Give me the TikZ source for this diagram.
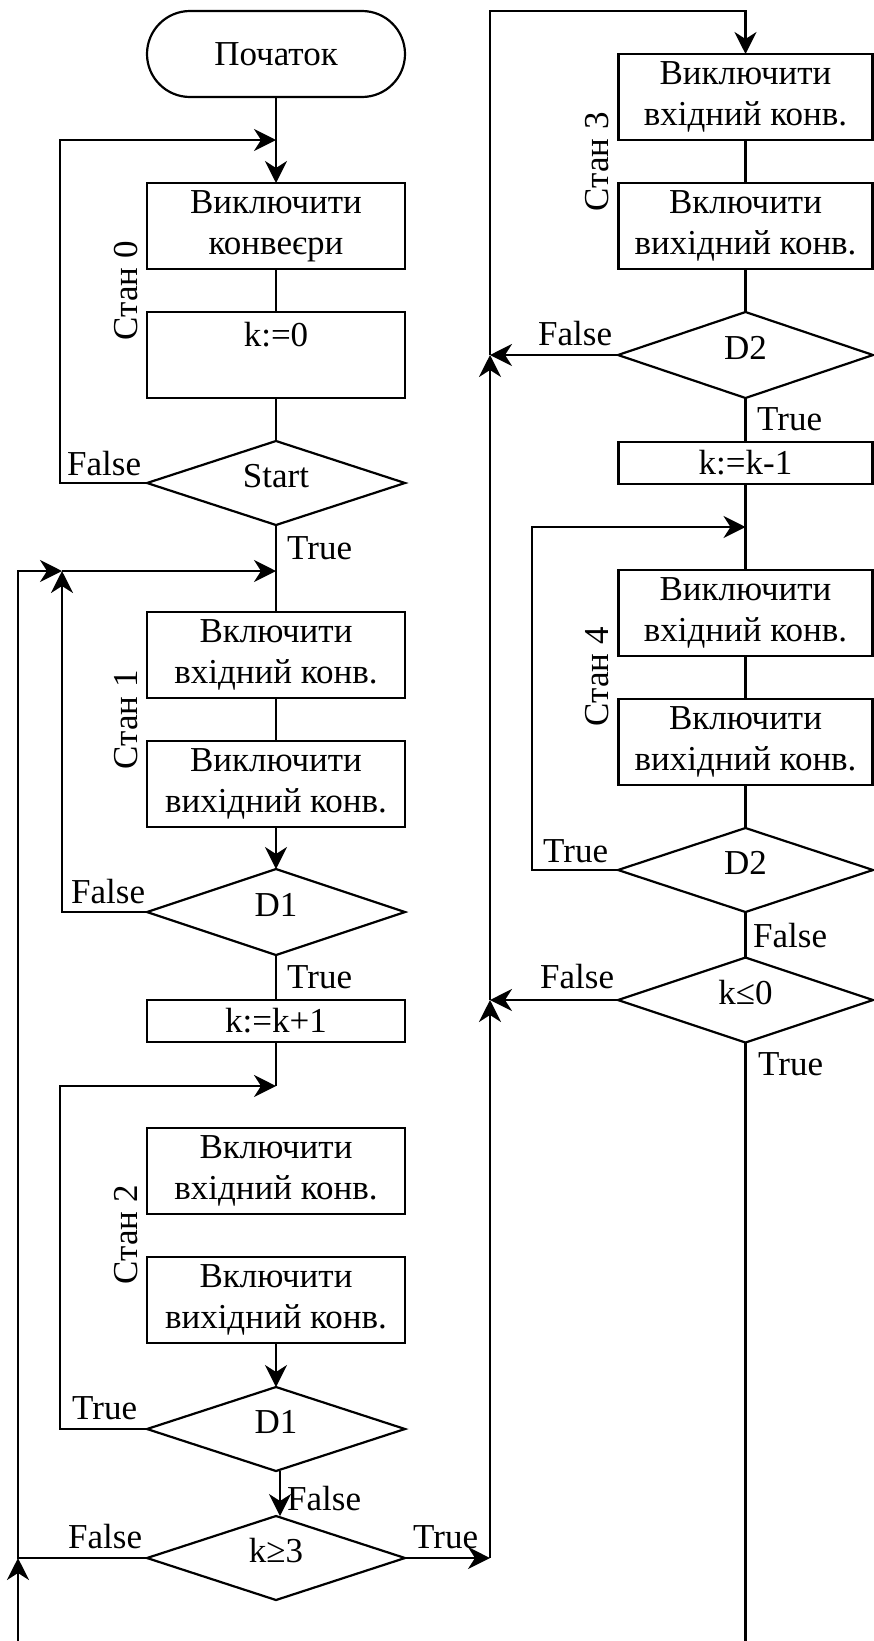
\documentclass[tikz,border=0pt]{standalone}
\usepackage{fontspec}
\setmainfont{Liberation Serif}
\usetikzlibrary{arrows.meta,shapes.geometric}
\begin{document}
\begin{tikzpicture}[x=1pt,y=-1pt,font=\fontsize{35pt}{41pt}\selectfont,
  base/.style={draw, line width=2.2pt, inner sep=0pt, outer sep=0pt, align=center},
  proc/.style={base, rectangle, minimum width=258pt, minimum height=86pt},
  procR/.style={proc, minimum width=254pt},
  term/.style={proc, rounded corners=43pt},
  dec/.style={base, diamond, aspect=3, minimum width=258pt, minimum height=84pt, text height=23pt, text depth=14pt},
  decR/.style={dec, minimum width=255pt},
  lbl/.style={anchor=base west, inner sep=0pt},
  stan/.style={rotate=90, inner sep=0pt},
  conn/.style={line width=2.2pt},
  arr/.style={conn, -{Stealth[length=22pt,width=22pt,inset=7pt]}}
]
\useasboundingbox (0,0) rectangle (873,1641);

% left column
\node[term] (start) at (276,54) {Початок};
\node[proc] (b1) at (276,226) {Виключити\\конвеєри};
\node[proc] (b2) at (276,355) {k:=0\\\mbox{}};
\node[dec] (ds) at (276,483) {Start};
\node[proc] (b3) at (276,655) {Включити\\вхідний конв.};
\node[proc] (b4) at (276,784) {Виключити\\вихідний конв.};
\node[dec, minimum height=86pt] (d1a) at (276,912) {D1};
\node[proc, minimum height=42pt] (b5) at (276,1021) {k:=k+1};
\node[proc] (b6) at (276,1171) {Включити\\вхідний конв.};
\node[proc] (b7) at (276,1300) {Включити\\вихідний конв.};
\node[dec] (d1b) at (276,1429) {D1};
\node[dec] (dk3) at (276,1558) {k≥3};

% right column
\node[procR] (r1) at (745.5,97) {Виключити\\вхідний конв.};
\node[procR] (r2) at (745.5,226) {Включити\\вихідний конв.};
\node[decR, minimum height=86pt] (dr1) at (745.5,355) {D2};
\node[procR, minimum height=42pt] (r3) at (745.5,463) {k:=k-1};
\node[procR] (r4) at (745.5,613) {Виключити\\вхідний конв.};
\node[procR] (r5) at (745.5,742) {Включити\\вихідний конв.};
\node[decR] (dr2) at (745.5,870) {D2};
\node[decR, minimum height=85pt] (dk0) at (745.5,1000) {k≤0};

% state labels
\node[stan] (s0) at (126,291) {Стан 0};
\node[stan] (s1) at (126,720) {Стан 1};
\node[stan] (s2) at (126,1235) {Стан 2};
\node[stan] (s3) at (597,162) {Стан 3};
\node[stan] (s4) at (597,677) {Стан 4};

% branch labels
\node[lbl] (l1) at (67,475) {False};
\node[lbl] (l2) at (287,559) {True};
\node[lbl] (l3) at (71,903) {False};
\node[lbl] (l4) at (287,988) {True};
\node[lbl] (l5) at (72,1419) {True};
\node[lbl] (l6) at (287,1510) {False};
\node[lbl] (l7) at (68,1548) {False};
\node[lbl] (l8) at (413,1548) {True};
\node[lbl] (l9) at (538,345) {False};
\node[lbl] (l10) at (757,430) {True};
\node[lbl] (l11) at (543,862) {True};
\node[lbl] (l12) at (753,947) {False};
\node[lbl] (l13) at (540,988) {False};
\node[lbl] (l14) at (758,1075) {True};

% junction coordinates
\coordinate (jA) at (276,140);
\coordinate (jB) at (276,571);
\coordinate (mB) at (62,571);
\coordinate (oB) at (18,571);
\coordinate (jC) at (276,1086);
\coordinate (oK3) at (18,1558);
\coordinate (xR) at (490,1558);
\coordinate (xK0) at (490,1000);
\coordinate (xD2) at (490,355);
\coordinate (xTop) at (490,11);
\coordinate (jD) at (745.5,527);
\coordinate (botR) at (745.5,1645);
\coordinate (botL) at (18,1645);

% left connectors
\draw[arr] (start) -- (b1);
\draw[arr] (ds.west) -- ++(-87,0) |- (jA);
\draw[conn] (b1) -- (b2);
\draw[conn] (b2) -- (ds);
\draw[conn] (ds) -- (b3);
\draw[arr] (dk3.west) -| (oB) -- (mB);
\draw[arr] (d1a.west) -| (mB);
\draw[arr] (mB) -- (jB);
\draw[conn] (b3) -- (b4);
\draw[arr] (b4) -- (d1a);
\draw[conn] (d1a) -- (b5);
\draw[conn] (b5) -- (jC);
\draw[arr] (d1b.west) -- ++(-87,0) |- (jC);
\draw[arr] (b7) -- (d1b);
\draw[arr] ([xshift=4pt]d1b.south) -- ([xshift=4pt]dk3.north);
\draw[arr] (botL) -- (oK3);

% crossing to right column
\draw[arr] (dk3.east) -- (xR);
\draw[arr] (xR) -- (xK0);
\draw[arr] (xK0) -- (xD2);
\draw[arr] (xD2) -- (xTop) -| (r1.north);

% right connectors
\draw[conn] (r1) -- (r2);
\draw[conn] (r2) -- (dr1);
\draw[arr] (dr1.west) -- (xD2);
\draw[conn] (dr1) -- (r3);
\draw[conn] (r3) -- (r4);
\draw[arr] (dr2.west) -- ++(-86,0) |- (jD);
\draw[conn] (r4) -- (r5);
\draw[conn] (r5) -- (dr2);
\draw[conn] (dr2) -- (dk0);
\draw[arr] (dk0.west) -- (xK0);
\draw[conn] (dk0) -- (botR);
\end{tikzpicture}
\end{document}
